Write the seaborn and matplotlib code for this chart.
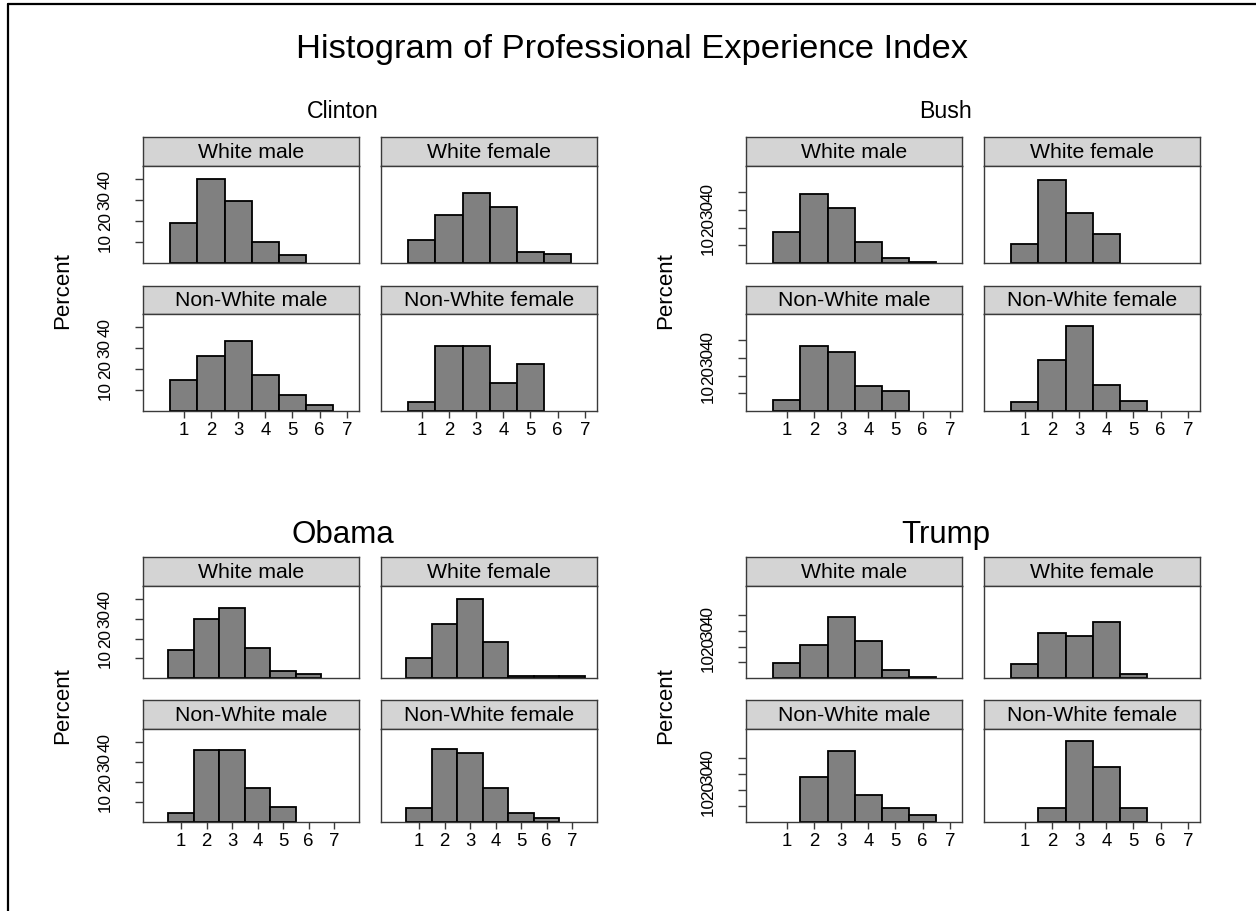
import numpy as np
import pandas as pd
import matplotlib
matplotlib.use("Agg")
import matplotlib.pyplot as plt
from matplotlib.lines import Line2D
import seaborn as sns

sns.set_theme(style="white")
plt.rcParams["font.family"] = ["Liberation Sans", "DejaVu Sans"]
plt.rcParams["text.color"] = "black"
plt.rcParams["xtick.color"] = "black"
plt.rcParams["ytick.color"] = "black"

# Professional experience index levels and the four demographic groups
LEVELS = [1, 2, 3, 4, 5, 6, 7]
GROUPS = ["White male", "White female", "Non-White male", "Non-White female"]
Y_TICKS = [10, 20, 30, 40]

# Percent of appointees at each index level
clinton_white_male = [19.0, 40.0, 29.4, 10.1, 3.7, 0.0, 0.0]
clinton_white_female = [11.0, 23.0, 33.3, 26.7, 5.1, 4.2, 0.0]
clinton_nonwhite_male = [14.6, 26.1, 33.4, 17.3, 7.4, 2.9, 0.0]
clinton_nonwhite_female = [4.5, 31.1, 31.1, 13.3, 22.2, 0.0, 0.0]

bush_white_male = [17.2, 38.7, 30.9, 12.1, 2.8, 0.8, 0.0]
bush_white_female = [10.6, 46.6, 28.3, 16.6, 0.0, 0.0, 0.0]
bush_nonwhite_male = [6.0, 36.8, 33.4, 14.0, 11.3, 0.0, 0.0]
bush_nonwhite_female = [5.3, 28.9, 47.9, 14.5, 5.5, 0.0, 0.0]

obama_white_male = [14.1, 29.7, 35.5, 15.1, 3.7, 1.8, 0.0]
obama_white_female = [9.9, 27.4, 40.0, 18.2, 1.2, 1.2, 1.2]
obama_nonwhite_male = [4.4, 36.1, 36.1, 17.3, 7.5, 0.0, 0.0]
obama_nonwhite_female = [6.9, 36.6, 34.6, 17.3, 4.4, 2.2, 0.0]

trump_white_male = [9.6, 21.3, 38.9, 23.8, 5.3, 0.9, 0.0]
trump_white_female = [8.9, 28.7, 26.4, 35.5, 2.3, 0.0, 0.0]
trump_nonwhite_male = [0.0, 28.5, 44.6, 16.8, 8.7, 4.2, 0.0]
trump_nonwhite_female = [0.0, 8.7, 51.1, 34.4, 8.7, 0.0, 0.0]

BAR_COLOR = "#808080"
STRIP_COLOR = "#d4d4d4"
FRAME_COLOR = "#3a3a3a"

W, H = 1256, 911
fig = plt.figure(figsize=(W / 100, H / 100), dpi=100)
fig.patch.set_facecolor("white")


def px_axes(x0, y0, x1, y1):
    return fig.add_axes([x0 / W, 1 - y1 / H, (x1 - x0) / W, (y1 - y0) / H])


def fig_text(x, y, s, **kw):
    fig.text(x / W, 1 - y / H, s, **kw)


# Outer frame of the combined graph
fig.add_artist(Line2D([8 / W, 8 / W], [0, 1 - 4 / H], transform=fig.transFigure,
                      color="black", lw=1.6))
fig.add_artist(Line2D([8 / W, 1], [1 - 4 / H, 1 - 4 / H], transform=fig.transFigure,
                      color="black", lw=1.6))

fig_text(632, 58, "Histogram of Professional Experience Index",
         ha="center", va="baseline", fontsize=24.8)

blocks = [
    dict(name="Clinton", size=16.7, title_y=118, cols=[(143, 359), (381, 597)],
         rows=[(137, 166, 263), (286, 314, 411)], ytop=46.3, xright=7.45,
         data=[clinton_white_male, clinton_white_female,
               clinton_nonwhite_male, clinton_nonwhite_female]),
    dict(name="Bush", size=16.7, title_y=118, cols=[(746, 962), (984, 1200)],
         rows=[(137, 166, 263), (286, 314, 411)], ytop=54.7, xright=7.45,
         data=[bush_white_male, bush_white_female,
               bush_nonwhite_male, bush_nonwhite_female]),
    dict(name="Obama", size=22.5, title_y=543, cols=[(143, 359), (381, 597)],
         rows=[(557, 586, 678), (700, 729, 822)], ytop=46.7, xright=7.98,
         data=[obama_white_male, obama_white_female,
               obama_nonwhite_male, obama_nonwhite_female]),
    dict(name="Trump", size=22.5, title_y=543, cols=[(746, 962), (984, 1200)],
         rows=[(557, 586, 678), (700, 729, 822)], ytop=58.5, xright=7.45,
         data=[trump_white_male, trump_white_female,
               trump_nonwhite_male, trump_nonwhite_female]),
]

for blk in blocks:
    left = blk["cols"][0][0]
    fig_text(left + 199.5, blk["title_y"], blk["name"], ha="center",
             va="baseline", fontsize=blk["size"])
    plot_top = blk["rows"][0][1]
    plot_bot = blk["rows"][1][2]
    fig_text(left - 80, (plot_top + plot_bot) / 2 + 2, "Percent", rotation=90,
             ha="center", va="center", fontsize=16)

    for i, (group, pct) in enumerate(zip(GROUPS, blk["data"])):
        r, c = divmod(i, 2)
        x0, x1 = blk["cols"][c]
        s0, s1, p1 = blk["rows"][r]

        # strip label
        sax = px_axes(x0, s0, x1, s1)
        sax.set_facecolor(STRIP_COLOR)
        sax.set_xticks([])
        sax.set_yticks([])
        for sp in sax.spines.values():
            sp.set_color(FRAME_COLOR)
            sp.set_linewidth(1.0)
        sax.text(0.5, 0.47, group, transform=sax.transAxes, ha="center",
                 va="center", fontsize=15.3)

        ax = px_axes(x0, s1, x1, p1)
        df = pd.DataFrame({"level": LEVELS, "pct": pct})
        df = df[df["pct"] > 0]
        sns.histplot(data=df, x="level", weights="pct", discrete=True,
                     stat="count", color=BAR_COLOR, edgecolor="black",
                     linewidth=1.3, alpha=1, ax=ax)
        ax.set_xlim(-0.5, blk["xright"])
        ax.set_ylim(0, blk["ytop"])
        ax.set_xlabel("")
        ax.set_ylabel("")
        ax.set_facecolor("white")
        for sp in ax.spines.values():
            sp.set_visible(True)
            sp.set_color(FRAME_COLOR)
            sp.set_linewidth(1.0)

        if c == 0:
            ax.set_yticks(Y_TICKS)
            ax.set_yticklabels([str(t) for t in Y_TICKS], rotation=90,
                               va="center")
            ax.tick_params(axis="y", left=True, length=5.8, width=1,
                           color=FRAME_COLOR, pad=16, labelsize=12.3)
        else:
            ax.set_yticks([])

        if r == 1:
            ax.set_xticks(LEVELS)
            ax.set_xticklabels([str(v) for v in LEVELS])
            ax.tick_params(axis="x", bottom=True, length=5.2, width=1,
                           color=FRAME_COLOR, pad=3, labelsize=13.4)
        else:
            ax.set_xticks([])

fig.savefig("out.png", dpi=100, facecolor="white")
